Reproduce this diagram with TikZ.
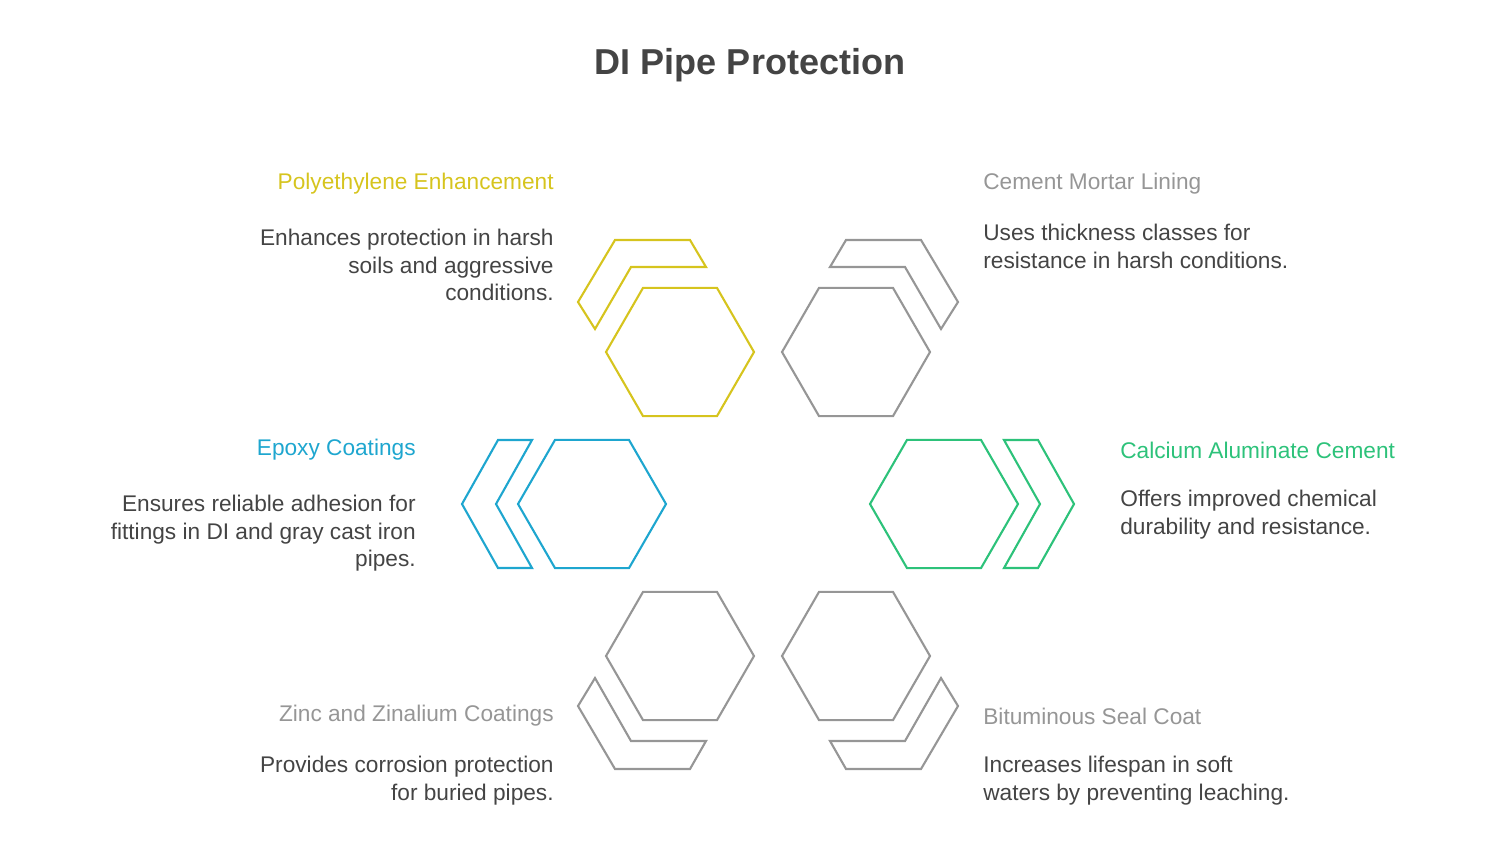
\documentclass[tikz,border=0pt]{standalone}
\usepackage{fontspec}
\setmainfont{Liberation Sans}
\definecolor{polyc}{RGB}{214,196,30}
\definecolor{epoxc}{RGB}{30,166,207}
\definecolor{calcc}{RGB}{45,194,122}
\definecolor{grayc}{RGB}{150,150,150}
\definecolor{textc}{RGB}{68,68,68}
\tikzset{
  head/.style={font=\fontsize{12.9}{15.6}\selectfont, inner sep=0pt},
  desc/.style={font=\fontsize{12.9}{15.6}\selectfont, text=textc, inner sep=0pt},
  band/.style={line width=1.2pt, line join=miter},
}
\newcommand\pipehex[2]{\draw[band,#2] (#1) +(0:74) -- +(60:74) -- +(120:74) -- +(180:74) -- +(240:74) -- +(300:74) -- cycle;}
\begin{document}
\begin{tikzpicture}[x=0.02cm,y=-0.02cm]
	\useasboundingbox (0,0) rectangle (1500,843);
	\node[font=\fontsize{20.5}{25}\selectfont\bfseries, text=textc] (title) at (750,65) {DI Pipe Protection};
	
	% hexagons
	\coordinate (hpoly) at (680,352);
	\coordinate (hcem) at (856,352);
	\coordinate (hepox) at (592,504);
	\coordinate (hcalc) at (944,504);
	\coordinate (hzinc) at (680,656);
	\coordinate (hbit) at (856,656);
	\pipehex{hpoly}{polyc}
	\pipehex{hcem}{grayc}
	\pipehex{hepox}{epoxc}
	\pipehex{hcalc}{calcc}
	\pipehex{hzinc}{grayc}
	\pipehex{hbit}{grayc}
	
	% chevrons
	\draw[band,polyc] (578,302) -- (615,240) -- (690,240) -- (706,267) -- (631,267) -- (595,329) -- cycle;
	\draw[band,grayc] (958,302) -- (921,240) -- (846,240) -- (830,267) -- (905,267) -- (941,329) -- cycle;
	\draw[band,epoxc] (462,504) -- (498,440) -- (532,440) -- (496,504) -- (532,568) -- (498,568) -- cycle;
	\draw[band,calcc] (1074,504) -- (1038,440) -- (1004,440) -- (1040,504) -- (1004,568) -- (1038,568) -- cycle;
	\draw[band,grayc] (578,706) -- (615,769) -- (690,769) -- (706,741) -- (631,741) -- (595,678) -- cycle;
	\draw[band,grayc] (958,706) -- (921,769) -- (846,769) -- (830,741) -- (905,741) -- (941,678) -- cycle;
	
	% labels
	\node[head, text=polyc, anchor=east] (tpoly) at (554,184) {Polyethylene Enhancement};
	\node[desc, anchor=north east, align=right] (dpoly) at (554,229) {Enhances protection in harsh\\soils and aggressive\\conditions.};
	\node[head, text=grayc, anchor=west] (tcem) at (983,184) {Cement Mortar Lining};
	\node[desc, anchor=north west, align=left] (dcem) at (983,224) {Uses thickness classes for\\resistance in harsh conditions.};
	\node[head, text=epoxc, anchor=east] (tepox) at (416,450) {Epoxy Coatings};
	\node[desc, anchor=north east, align=right] (depox) at (416,495) {Ensures reliable adhesion for\\fittings in DI and gray cast iron\\pipes.};
	\node[head, text=calcc, anchor=west] (tcalc) at (1120,450) {Calcium Aluminate Cement};
	\node[desc, anchor=north west, align=left] (dcalc) at (1120,490) {Offers improved chemical\\durability and resistance.};
	\node[head, text=grayc, anchor=east] (tzinc) at (554,716) {Zinc and Zinalium Coatings};
	\node[desc, anchor=north east, align=right] (dzinc) at (554,756) {Provides corrosion protection\\for buried pipes.};
	\node[head, text=grayc, anchor=west] (tbit) at (983,716) {Bituminous Seal Coat};
	\node[desc, anchor=north west, align=left] (dbit) at (983,756) {Increases lifespan in soft\\waters by preventing leaching.};
\end{tikzpicture}
\end{document}
